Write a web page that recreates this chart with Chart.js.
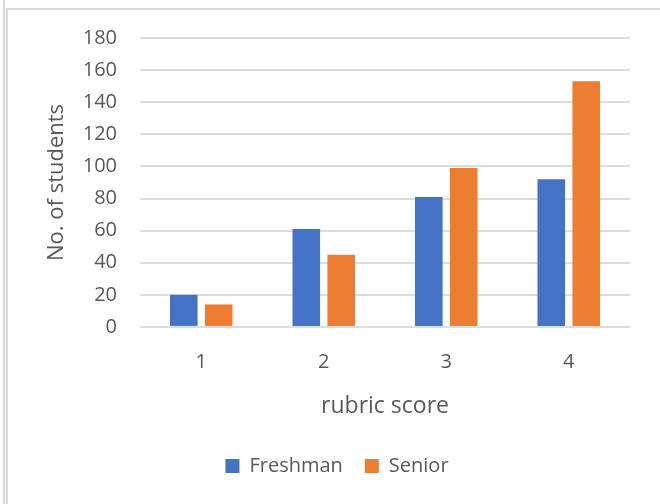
<!DOCTYPE html>
<html>
<head>
<meta charset="utf-8">
<script src="https://cdn.jsdelivr.net/npm/chart.js@4.4.1/dist/chart.umd.min.js"></script>
<style>
  html, body { margin: 0; padding: 0; background: #ffffff; }
  #frame { position: relative; width: 660px; height: 504px; overflow: hidden; background: #ffffff; }
  #edgeOuter { position: absolute; left: 3px; top: 0; width: 2px; height: 504px; background: #d9d9d9; }
  #edgeInner { position: absolute; left: 6px; top: 8px; width: 654px; height: 496px;
               border-left: 2px solid #d9d9d9; border-top: 2px solid #d9d9d9; box-sizing: border-box; }
  #wrap { position: absolute; left: 0; top: 0; width: 660px; height: 504px; }
</style>
</head>
<body>
<div id="frame">
  <div id="edgeOuter"></div>
  <div id="edgeInner"></div>
  <div id="wrap"><canvas id="chart"></canvas></div>
</div>
<script>
// Rubric score categories and student counts per cohort
const scores = ['1', '2', '3', '4'];
const freshman = [20, 61, 81, 92];
const senior = [14, 45, 99, 153];

// Value axis range
const yMin = 0;
const yMax = 180;
const yStep = 20;

const textColor = '#595959';
const fontFamily = "'Open Sans', 'Liberation Sans', sans-serif";

new Chart(document.getElementById('chart'), {
  type: 'bar',
  data: {
    labels: scores,
    datasets: [
      { label: 'Freshman', data: freshman, backgroundColor: '#4472c4', borderWidth: 0 },
      { label: 'Senior', data: senior, backgroundColor: '#ed7d31', borderWidth: 0 }
    ]
  },
  options: {
    responsive: true,
    maintainAspectRatio: false,
    animation: false,
    categoryPercentage: 0.57,
    barPercentage: 0.79,
    layout: { padding: { left: 44, right: 30, top: 38, bottom: 18 } },
    plugins: {
      tooltip: { enabled: false },
      legend: {
        position: 'bottom',
        labels: {
          color: textColor,
          font: { family: fontFamily, size: 20 },
          boxWidth: 14,
          boxHeight: 14,
          padding: 22
        }
      }
    },
    scales: {
      x: {
        grid: { display: false },
        border: { display: false },
        ticks: { color: textColor, font: { family: fontFamily, size: 20 }, padding: 15 },
        title: {
          display: true,
          text: 'rubric score',
          color: textColor,
          font: { family: fontFamily, size: 23 },
          padding: { top: 4, bottom: 13.5 }
        }
      },
      y: {
        min: yMin,
        max: yMax,
        // fixed axis band so the plot starts at a steady offset
        afterFit(scale) { scale.width = 96; },
        ticks: { stepSize: yStep, color: textColor, font: { family: fontFamily, size: 20 }, padding: 23 },
        grid: { color: '#dcdcdc', lineWidth: 2, drawTicks: false },
        border: { display: false },
        title: {
          display: true,
          text: 'No. of students',
          color: textColor,
          font: { family: fontFamily, size: 22 },
          padding: { top: 0, bottom: 4 }
        }
      }
    }
  }
});
</script>
</body>
</html>
